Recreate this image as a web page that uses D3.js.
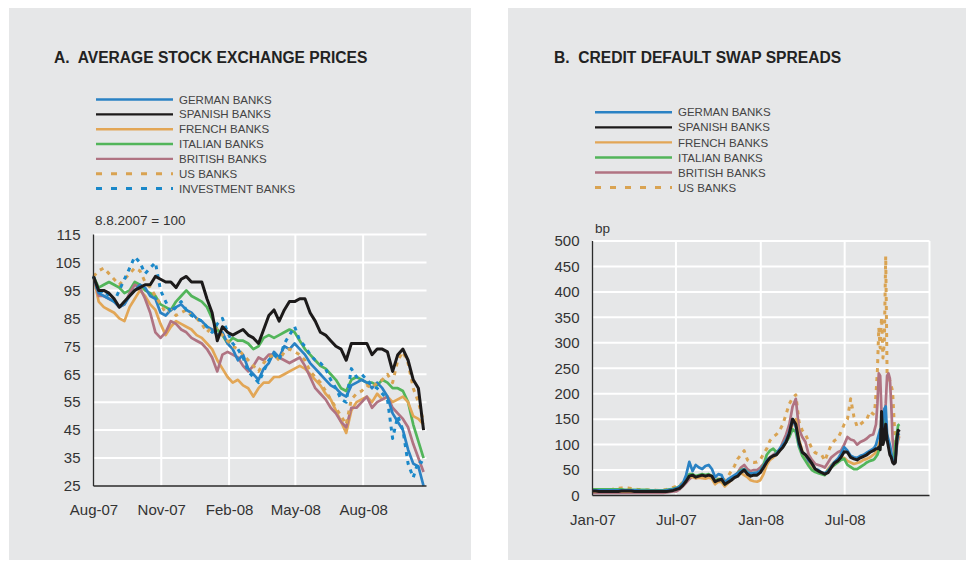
<!DOCTYPE html>
<html>
<head>
<meta charset="utf-8">
<script src="https://cdn.jsdelivr.net/npm/d3@7"></script>
<style>
  body { margin: 0; background: #fff; }
  text { font-family: "Liberation Sans", Arial, Helvetica, sans-serif; }
</style>
</head>
<body>
<div id="chart"></div>
<script>
// ---- panel A: stock prices, weekly from 8.8.2007 (=100) ----
var seriesNamesA = ["GERMAN BANKS", "SPANISH BANKS", "FRENCH BANKS", "ITALIAN BANKS", "BRITISH BANKS", "US BANKS", "INVESTMENT BANKS"];
var germanA  = [100,94,93,92,91,89,90,93,95,97,96,93,92,87,86,88,89,90,88,87,85,84,82,81,79,80,76,74,70,72,67,65,63,67,69,73,71,75,74,76,74,72,69,67,65,63,61,60,58,57,61,62,63,62,60,62,60,57,51,48,45,38,33,32,25];
var spanishA = [100,95,95,94,92,89,91,93,95,96,97,97,100,99,98,98,96,99,100,98,98,98,92,87,77,82,80,79,80,81,79,78,76,81,86,88,84,88,91,91,92,92,87,84,80,79,77,75,74,70,76,76,76,76,72,74,74,73,66,72,74,70,63,60,45];
var frenchA  = [100,91,89,88,87,85,84,89,92,95,93,90,88,83,79,82,84,83,82,81,79,78,76,74,70,67,64,62,63,61,60,57,60,62,62,64,64,65,66,67,68,67,65,63,61,58,56,52,48,44,52,55,56,57,55,58,56,57,55,56,57,55,50,49,47];
var italianA = [100,96,97,98,97,96,94,95,98,97,95,94,93,90,89,88,91,93,95,93,92,91,89,85,81,79,76,78,77,77,76,74,75,78,79,78,79,80,81,80,77,74,72,70,68,67,65,63,60,59,63,64,63,62,62,61,63,62,60,60,59,55,47,41,35];
var britishA = [100,93,93,92,91,89,90,94,97,96,92,87,80,78,80,84,83,81,80,78,77,76,74,71,66,72,73,72,71,68,66,68,71,70,72,72,71,70,69,70,71,68,64,60,58,56,53,51,48,46,53,53,55,57,53,55,56,57,53,51,49,46,40,35,30];
var usA      = [100,102,103,101,99,97,99,101,103,102,98,96,93,90,87,88,86,87,88,86,85,83,80,82,81,79,77,75,74,72,70,68,66,69,71,72,70,73,74,73,72,70,66,64,62,59,56,53,50,47,56,58,59,61,60,62,63,65,62,70,73,69,60,55,48];
var investA  = [100,94,95,93,91,95,99,103,107,105,101,103,105,95,91,87,89,91,88,86,85,84,82,80,83,85,80,76,74,71,66,64,62,66,70,72,70,76,79,82,77,75,72,70,69,67,63,60,56,55,67,64,65,63,61,60,58,56,42,50,45,33,28,34,33];
var yTicksA = [25,35,45,55,65,75,85,95,105,115];

// ---- panel B: CDS spreads (bp), weekly from Jan 2007, every 3 days from mid-Sep 2008 ----
var seriesNamesB = ["GERMAN BANKS", "SPANISH BANKS", "FRENCH BANKS", "ITALIAN BANKS", "BRITISH BANKS", "US BANKS"];
var germanB = [10,10,10,10,10,10,10,10,10,10,10,10,10,10,10,9,9,9,9,9,9,9,9,10,11,12,
  14,18,24,40,66,48,60,55,52,58,60,52,36,42,40,25,32,36,40,44,48,52,45,43,44,45,48,58,69,74,78,82,92,100,110,125,150,135,100,85,80,68,62,52,50,45,44,48,58,66,72,82,95,88,78,75,74,78,80,84,88,92,
  95,100,110,120,130,120,140,170,175,120,110,100,85,70,65,70,100,120,122];
var spanishB = [9,9,8,8,8,8,8,8,8,9,9,9,9,8,8,8,8,8,8,8,8,8,8,8,9,10,
  12,14,20,28,38,40,36,38,40,38,40,38,27,30,32,22,26,30,35,38,45,50,42,38,40,40,45,55,66,74,78,80,88,95,105,122,150,140,105,85,80,72,63,52,48,45,42,45,55,64,68,75,86,85,75,72,70,74,77,80,85,88,
  90,92,92,95,90,165,100,110,140,110,95,80,75,65,62,65,110,128,125];
var frenchB = [8,8,8,8,8,8,8,8,8,8,8,8,8,8,8,8,8,8,8,8,8,8,8,9,10,12,
  14,17,22,30,38,36,34,35,34,33,35,33,22,27,26,18,24,30,36,42,44,40,36,30,28,27,30,42,60,70,75,80,88,100,110,122,140,150,110,88,75,62,58,48,46,45,42,52,60,66,70,72,74,68,65,62,64,66,70,72,75,80,
  82,85,90,100,110,100,105,125,130,110,100,95,80,72,65,75,100,115,118];
var italianB = [12,12,12,12,12,12,12,12,12,12,11,11,11,11,11,11,11,11,10,10,10,10,10,11,12,13,
  15,18,24,32,42,42,38,40,42,40,42,38,28,32,32,22,28,34,38,44,50,52,46,42,44,44,48,60,80,88,92,85,90,96,105,115,130,125,95,78,68,58,50,46,44,42,40,50,55,60,65,70,72,60,56,52,52,56,60,65,68,70,
  72,76,80,88,95,122,110,148,140,115,105,90,80,76,70,100,120,138,140];
var britishB = [5,5,5,5,5,5,5,5,5,5,5,5,5,5,5,5,5,5,5,5,5,5,5,6,7,8,
  8,12,18,25,32,38,34,36,38,36,38,35,25,30,30,20,25,32,38,45,55,60,52,48,50,50,55,62,70,75,80,85,90,105,120,140,175,190,130,115,105,80,70,62,60,58,55,65,75,80,85,88,100,115,110,108,100,105,108,112,118,120,
  130,140,180,240,235,160,130,150,180,235,240,230,180,110,85,70,95,115,112];
var usB = [10,10,11,11,12,12,11,15,14,15,16,15,14,13,12,12,11,11,11,11,10,11,11,12,14,16,
  18,20,26,36,44,40,36,38,37,35,37,36,27,33,35,30,38,48,58,72,80,88,70,66,65,66,70,82,92,108,115,120,128,140,160,180,192,198,145,128,120,106,92,84,82,80,68,85,100,108,112,125,140,150,190,155,135,140,145,150,165,160,
  165,200,245,330,290,350,270,300,470,240,235,225,215,205,150,100,100,110,115];
var yTicksB = [0,50,100,150,200,250,300,350,400,450,500];

var startA = new Date(2007, 7, 8);
var datesA = d3.range(germanA.length).map(function(i) { return d3.timeDay.offset(startA, 7 * i); });
var startB = new Date(2007, 0, 1);
var daysB = d3.range(88).map(function(i) { return 7 * i; }).concat(d3.range(19).map(function(i) { return 612 + 3 * i; }));
var datesB = daysB.map(function(d) { return d3.timeDay.offset(startB, d); });

var colors = {
  german: "#2a82c4", spanish: "#1c1a1a", french: "#e2a656",
  italian: "#52b55a", british: "#b07382", us: "#d9a352", invest: "#1a88c9"
};

var svg = d3.select("#chart").append("svg")
    .attr("width", 968)
    .attr("height", 563);

// panel backgrounds
svg.append("rect").attr("x", 9).attr("y", 8).attr("width", 462).attr("height", 552).attr("fill", "#e6e7e8");
svg.append("rect").attr("x", 508).attr("y", 8).attr("width", 458).attr("height", 552).attr("fill", "#e6e7e8");

function drawPanel(p) {
  var g = svg.append("g");
  var x0 = p.x.range()[0], x1 = p.x.range()[1];
  var yb = p.y.range()[0], yt = p.y.range()[1];

  g.append("text").attr("x", p.titleX).attr("y", 62.5)
    .attr("font-size", "15.6px").attr("font-weight", "bold").attr("fill", "#222")
    .attr("xml:space", "preserve")
    .text(p.title);

  // legend
  p.legend.forEach(function(s, i) {
    var ly = p.legY + i * p.legStep;
    g.append("line").attr("x1", p.legX).attr("x2", p.legX + 77).attr("y1", ly).attr("y2", ly)
      .attr("stroke", s.color).attr("stroke-width", s.dash ? 3 : 2.4)
      .attr("stroke-dasharray", s.dash ? "6,9" : null);
    g.append("text").attr("x", p.legX + 83).attr("y", ly).attr("dy", "0.36em")
      .attr("font-size", "11.5px").attr("fill", "#444").text(s.name);
  });

  g.append("text").attr("x", p.unitX).attr("y", p.unitY).attr("dy", "0.35em")
    .attr("font-size", p.unitSize).attr("fill", "#333").text(p.unit);

  // grid
  g.selectAll(".hg").data(p.yTicks.slice(1)).enter().append("line")
    .attr("x1", x0).attr("x2", x1)
    .attr("y1", function(d) { return p.y(d); }).attr("y2", function(d) { return p.y(d); })
    .attr("stroke", "#fff").attr("stroke-width", 2);
  g.selectAll(".vg").data(p.vGrid).enter().append("line")
    .attr("x1", function(d) { return p.x(d); }).attr("x2", function(d) { return p.x(d); })
    .attr("y1", yt).attr("y2", yb)
    .attr("stroke", "#fff").attr("stroke-width", 2);

  // series
  p.series.forEach(function(s) {
    var line = d3.line()
      .x(function(d, i) { return p.x(p.dates[i]); })
      .y(function(d) { return p.y(d); });
    g.append("path").datum(s.values)
      .attr("fill", "none").attr("stroke", s.color)
      .attr("stroke-width", s.dash ? 3 : (s.color === colors.spanish ? 3 : 2.7))
      .attr("stroke-linejoin", "round")
      .attr("stroke-dasharray", s.dash ? "4,5" : null)
      .attr("d", line);
  });

  // axes
  var ya = g.append("g").attr("transform", "translate(" + x0 + ",0)")
    .call(d3.axisLeft(p.y).tickValues(p.yTicks).tickSize(0).tickPadding(13));
  var xa = g.append("g").attr("transform", "translate(0," + yb + ")")
    .call(d3.axisBottom(p.x).tickValues(p.xTicks).tickSize(0).tickPadding(p.xPad)
      .tickFormat(d3.timeFormat("%b-%y")));
  [ya, xa].forEach(function(a) {
    a.select(".domain").remove();
    a.selectAll("text").attr("font-size", "15px").attr("fill", "#333")
      .attr("font-family", "'Liberation Sans', Arial, sans-serif");
  });
  g.append("line").attr("x1", x0).attr("x2", x0).attr("y1", yt).attr("y2", yb)
    .attr("stroke", "#2b2b2b").attr("stroke-width", 1.3);
  g.append("line").attr("x1", x0).attr("x2", x1).attr("y1", yb).attr("y2", yb)
    .attr("stroke", "#2b2b2b").attr("stroke-width", 1.3);
}

var legendA = [
  {name: seriesNamesA[0], color: colors.german},
  {name: seriesNamesA[1], color: colors.spanish},
  {name: seriesNamesA[2], color: colors.french},
  {name: seriesNamesA[3], color: colors.italian},
  {name: seriesNamesA[4], color: colors.british},
  {name: seriesNamesA[5], color: colors.us, dash: true},
  {name: seriesNamesA[6], color: colors.invest, dash: true}
];

drawPanel({
  title: "A.  AVERAGE STOCK EXCHANGE PRICES", titleX: 54,
  x: d3.scaleTime().domain([startA, new Date(2008, 10, 2)]).range([93.5, 426.5]),
  y: d3.scaleLinear().domain([25, 115]).range([486, 234.5]),
  dates: datesA,
  yTicks: yTicksA,
  xTicks: [new Date(2007, 7, 8), new Date(2007, 10, 8), new Date(2008, 1, 8), new Date(2008, 4, 8), new Date(2008, 7, 8)],
  vGrid: [new Date(2007, 10, 8), new Date(2008, 1, 8), new Date(2008, 4, 8), new Date(2008, 7, 8)],
  xPad: 18,
  legend: legendA, legX: 96, legY: 99.5, legStep: 14.85,
  unit: "8.8.2007 = 100", unitX: 95, unitY: 220, unitSize: "13.5px",
  series: [
    {values: italianA, color: colors.italian},
    {values: frenchA, color: colors.french},
    {values: britishA, color: colors.british},
    {values: germanA, color: colors.german},
    {values: usA, color: colors.us, dash: true},
    {values: investA, color: colors.invest, dash: true},
    {values: spanishA, color: colors.spanish}
  ]
});

drawPanel({
  title: "B.  CREDIT DEFAULT SWAP SPREADS", titleX: 554,
  x: d3.scaleTime().domain([startB, new Date(2009, 0, 1)]).range([592.5, 929.5]),
  y: d3.scaleLinear().domain([0, 500]).range([495.5, 241]),
  dates: datesB,
  yTicks: yTicksB,
  xTicks: [new Date(2007, 0, 1), new Date(2007, 6, 1), new Date(2008, 0, 1), new Date(2008, 6, 1)],
  vGrid: [new Date(2007, 6, 1), new Date(2008, 0, 1), new Date(2008, 6, 1), new Date(2009, 0, 1)],
  xPad: 19,
  legend: legendA.slice(0, 6), legX: 595, legY: 112.3, legStep: 15.05,
  unit: "bp", unitX: 595, unitY: 228, unitSize: "13.5px",
  series: [
    {values: usB, color: colors.us, dash: true},
    {values: britishB, color: colors.british},
    {values: frenchB, color: colors.french},
    {values: italianB, color: colors.italian},
    {values: germanB, color: colors.german},
    {values: spanishB, color: colors.spanish}
  ]
});
</script>
</body>
</html>
